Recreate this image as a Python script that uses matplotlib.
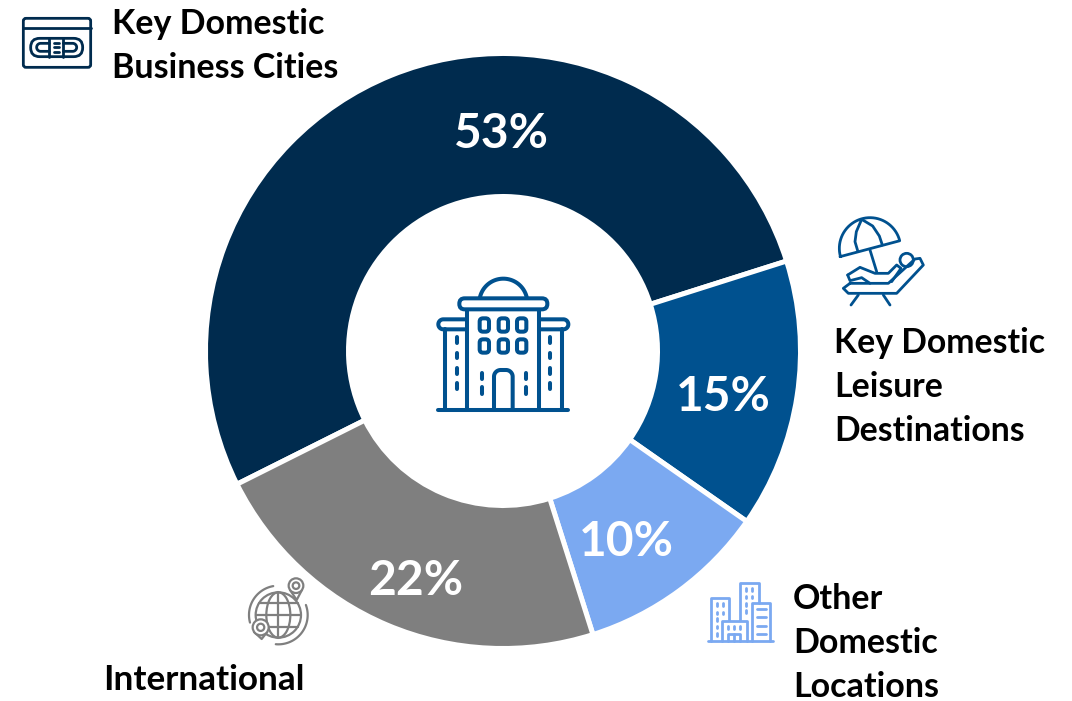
import numpy as np
import matplotlib
matplotlib.use('Agg')
import matplotlib.pyplot as plt
from matplotlib.patches import Circle, Ellipse, FancyBboxPatch

# Data
categories = ['Key Domestic\nBusiness Cities', 'Key Domestic\nLeisure\nDestinations',
              'Other\nDomestic\nLocations', 'International']
shares = [52.5, 14.6, 10.4, 22.5]  # slice sizes as drawn, the labels are rounded
share_labels = ['53%', '15%', '10%', '22%']
colors = ['#002B4E', '#00518F', '#7BA9F1', '#7F7F7F']

W, H = 1072, 701
CX, CY, R, R_IN = 503, 351, 297.5, 154.5
plt.rcParams['font.family'] = ['Lato', 'DejaVu Sans']

fig = plt.figure(figsize=(W / 100, H / 100), dpi=100, facecolor='white')

# donut gets its own axes, sized in pixels
ax_pie = fig.add_axes([(CX - R) / W, 1 - (CY + R) / H, 2 * R / W, 2 * R / H])
ax_pie.pie(shares, colors=colors, startangle=206.6, counterclock=False, radius=1,
           wedgeprops={'width': (R - R_IN) / R, 'edgecolor': 'white', 'linewidth': 3.6})
ax_pie.set_xlim(-1, 1)
ax_pie.set_ylim(-1, 1)

# overlay in pixel coordinates for text and icons
ax = fig.add_axes([0, 0, 1, 1])
ax.set_xlim(0, W)
ax.set_ylim(H, 0)
ax.axis('off')
ax.patch.set_alpha(0)


def line(pts, org, col, lw=2.0):
    xs = [org[0] + p[0] / 3 for p in pts]
    ys = [org[1] + p[1] / 3 for p in pts]
    ax.plot(xs, ys, color=col, lw=lw, solid_capstyle='round', solid_joinstyle='round', zorder=3)


def box(x0, y0, x1, y1, org, col, lw=2.0, rnd=6, fill='none'):
    ax.add_patch(FancyBboxPatch((org[0] + x0 / 3, org[1] + y0 / 3), (x1 - x0) / 3, (y1 - y0) / 3,
                                boxstyle=f'round,pad=0,rounding_size={rnd / 3}', fc=fill, ec=col, lw=lw, zorder=3))


def arc(cx, cy, r, a0, a1):
    t = np.radians(np.linspace(a0, a1, 40))
    return list(zip(cx + r * np.cos(t), cy - r * np.sin(t)))


def building(org, col):
    lw = 2.9
    line([(55, 450), (445, 450)], org, col, lw)
    line([(140, 150), (140, 450)], org, col, lw)
    line([(358, 150), (358, 450)], org, col, lw)
    box(118, 115, 382, 148, org, col, lw, rnd=16)
    line(arc(250, 128, 72, 12, 168), org, col, lw)
    line([(140, 178), (70, 178)] + arc(70, 193, 15, 90, 270) + [(140, 208)], org, col, lw)
    line([(358, 178), (430, 178)] + arc(430, 193, 15, 90, -90) + [(358, 208)], org, col, lw)
    line([(75, 208), (75, 450)], org, col, lw)
    line([(425, 208), (425, 450)], org, col, lw)
    for wx in (193, 250, 305):
        for wy in (195, 258):
            box(wx - 14, wy - 20, wx + 14, wy + 20, org, col, lw, rnd=10)
    for wx in (110, 390):
        for y0, y1 in ((232, 248), (278, 294), (324, 342), (368, 388)):
            line([(wx, y0), (wx, y1)], org, col, lw)
    for wx in (185, 318):
        for y0, y1 in ((338, 358), (382, 403)):
            line([(wx, y0), (wx, y1)], org, col, lw)
    line([(222, 450), (222, 350)] + arc(242, 350, 20, 180, 90) + arc(258, 350, 20, 90, 0) + [(278, 450)], org, col, lw)


def card(org, col):
    lw = 2.0
    box(40, 40, 242, 187, org, col, lw, rnd=8)
    line([(40, 70), (242, 70)], org, col, lw)
    box(62, 100, 218, 155, org, col, lw, rnd=27)
    line([(118, 100), (118, 155)], org, col, lw)
    line([(160, 100), (160, 155)], org, col, lw)
    line([(118, 115), (92, 115)] + arc(92, 127, 12, 90, 270) + [(118, 139)], org, col, lw)
    line([(160, 115), (188, 115)] + arc(188, 127, 12, 90, -90) + [(160, 139)], org, col, lw)
    for y in (115, 127, 140):
        line([(132, y), (148, y)], org, col, lw)


def lounger(org, col):
    lw = 2.0
    line(arc(135, 115, 92, 195.5, 14.3) + [(45, 140)], org, col, lw)
    line([(110, 28), (94, 65), (90, 95), (98, 122)], org, col, lw)
    line([(110, 28), (143, 48), (163, 78), (172, 105)], org, col, lw)
    line([(135, 120), (155, 185)], org, col, lw)
    ax.add_patch(Circle((org[0] + 245 / 3, org[1] + 150 / 3), 20 / 3, fc='none', ec=col, lw=lw, zorder=3))
    line([(75, 220), (190, 220), (270, 147), (285, 145), (295, 165), (215, 250), (70, 250),
          (55, 235), (75, 220)], org, col, lw)
    line([(100, 255), (78, 285)], org, col, lw)
    line([(175, 255), (195, 285)], org, col, lw)
    line([(68, 195), (105, 172), (150, 190), (190, 190), (215, 165), (228, 175), (200, 215)], org, col, lw)
    line([(68, 195), (75, 212), (110, 203), (135, 220)], org, col, lw)


def city(org, col):
    lw = 2.0
    line([(40, 197), (235, 197)], org, col, lw)
    line([(48, 197), (48, 68), (103, 68), (103, 135)], org, col, lw)
    line([(135, 135), (135, 25), (192, 25), (192, 85)], org, col, lw)
    line([(172, 197), (172, 85), (225, 85), (225, 197)], org, col, lw)
    line([(80, 197), (80, 137), (155, 137), (155, 197)], org, col, lw)
    line([(100, 197), (100, 178), (135, 178), (135, 197)], org, col, lw)
    line([(118, 178), (118, 197)], org, col, lw)
    for y in (103, 127, 152, 177):
        line([(185, y), (213, y)], org, col, lw)
    for wx, ys in ((67, (85, 110, 130, 152, 174)), (85, (85, 110))):
        for y in ys:
            line([(wx, y), (wx, y + 8)], org, col, lw)
    for wx, ys in ((152, (40, 62, 84, 106)), (172, (40, 62))):
        for y in ys:
            line([(wx, y), (wx, y + 8)], org, col, lw)
    for wx in (100, 118, 135):
        line([(wx, 152), (wx, 162)], org, col, lw)


def pin(org, col, x, y, r, tip):
    lw = 1.6
    ax.add_patch(Circle((org[0] + x / 3, org[1] + y / 3), r / 3, fc='white', ec=col, lw=lw, zorder=4))
    ax.add_patch(Circle((org[0] + x / 3, org[1] + y / 3), r * 0.45 / 3, fc='white', ec=col, lw=lw, zorder=5))
    line([(x - r * 0.8, y + r * 0.6), tip, (x + r * 0.8, y + r * 0.6)], org, col, lw)


def globe_icon(org, col):
    lw = 1.6
    gx, gy, r = 115, 135, 68
    pos = (org[0] + gx / 3, org[1] + gy / 3)
    ax.add_patch(Circle(pos, r / 3, fc='none', ec=col, lw=lw, zorder=3))
    ax.add_patch(Ellipse(pos, 2 * 36 / 3, 2 * r / 3, fc='none', ec=col, lw=lw, zorder=3))
    line([(gx, gy - r), (gx, gy + r)], org, col, lw)
    line([(gx - r, gy), (gx + r, gy)], org, col, lw)
    line([(gx - 58, gy - 35), (gx + 58, gy - 35)], org, col, lw)
    line([(gx - 58, gy + 35), (gx + 58, gy + 35)], org, col, lw)
    line(arc(gx, gy, 88, 100, 195), org, col, lw)
    line(arc(gx, gy, 88, 20, -95), org, col, lw)
    pin(org, col, 168, 47, 22, (170, 90))
    pin(org, col, 62, 172, 24, (65, 207))


building((420, 260), colors[1])
card((10, 5), colors[0])
lounger((825, 210), colors[1])
city((695, 575), colors[2])
globe_icon((240, 570), colors[3])

# percentages on the ring
share_pos = [(501, 134), (723, 397), (626, 542), (416, 581)]
for lab, (x, y) in zip(share_labels, share_pos):
    ax.text(x, y, lab, color='white', fontsize=34.5, fontweight='bold', ha='center', va='center', zorder=6)

# category names
name_pos = [(112, 46), (834, 387), (793, 643), (103, 680)]
name_sizes = [24.5, 24.3, 24.5, 25.3]
for name, (x, y), size in zip(categories, name_pos, name_sizes):
    ax.text(x, y, name, color='black', fontsize=size, fontweight='bold', ha='left', va='center',
            linespacing=1.46, zorder=6)

fig.savefig('out.png', dpi=100)
